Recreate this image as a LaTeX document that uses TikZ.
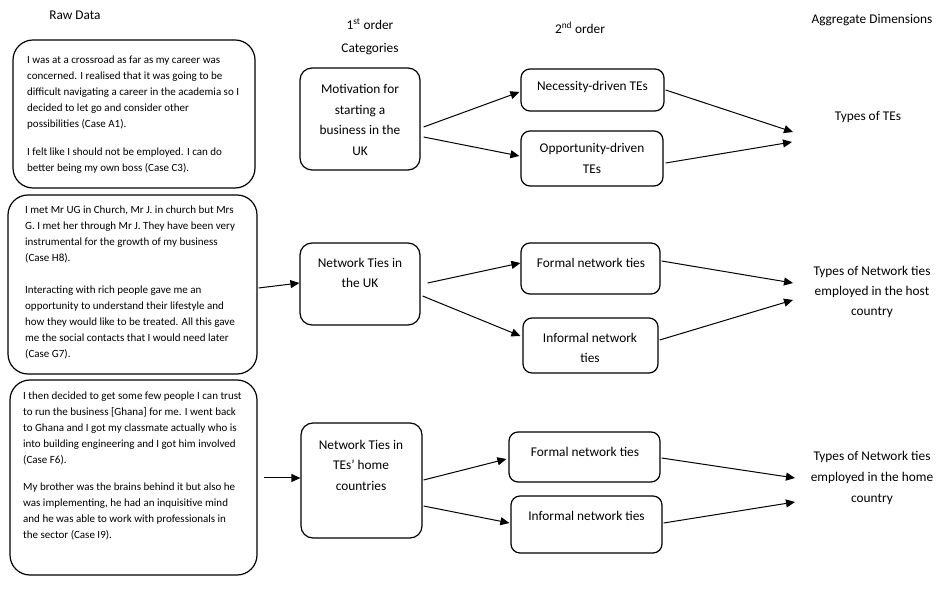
\documentclass[tikz,border=0pt]{standalone}
\usepackage{fontspec}
\setmainfont{Carlito}
\usetikzlibrary{arrows.meta}
\tikzset{
  rawbox/.style={draw, line width=1.2pt, rounded corners=20pt, inner sep=0pt},
  catbox/.style={draw, line width=1.2pt, rounded corners=12pt, inner sep=0pt},
  ordbox/.style={draw, line width=1.2pt, rounded corners=9pt, inner sep=0pt},
  rawtxt/.style={inner sep=0pt, align=left, anchor=west, font=\fontsize{11}{16}\selectfont},
  boxtxt/.style={inner sep=0pt, align=center, font=\fontsize{13.33}{20.5}\selectfont},
  head/.style={inner sep=0pt, align=center, font=\fontsize{13.33}{23}\selectfont},
  conn/.style={line width=1pt, -{Triangle[length=9pt,width=8pt]}}
}
\begin{document}
\begin{tikzpicture}[x=1pt,y=-1pt]
\useasboundingbox (0,0) rectangle (946,593);

% headers
\node[head] (hraw) at (75,15) {Raw Data};
\node[head] (hfirst) at (370,37) {1\textsuperscript{st} order\\Categories};
\node[head] (hsecond) at (580,28) {2\textsuperscript{nd} order};
\node[head] (hagg) at (872,20) {Aggregate Dimensions};

% raw data boxes
\node[rawbox, minimum width=242pt, minimum height=148pt] (raw1) at (134,114) {};
\node[rawtxt] (raw1t) at (27,115) {I was at a crossroad as far as my career was\\concerned. I realised that it was going to be\\difficult navigating a career in the academia so I\\decided to let go and consider other\\possibilities (Case A1).\\[12pt]I felt like I should not be employed. I can do\\better being my own boss (Case C3).};

\node[rawbox, minimum width=249pt, minimum height=179pt] (raw2) at (132.5,284.5) {};
\node[rawtxt] (raw2t) at (25,282) {I met Mr UG in Church, Mr J. in church but Mrs\\G. I met her through Mr J. They have been very\\instrumental for the growth of my business\\(Case H8).\\[16pt]Interacting with rich people gave me an\\opportunity to understand their lifestyle and\\how they would like to be treated. All this gave\\me the social contacts that I would need later\\(Case G7).};

\node[rawbox, minimum width=247pt, minimum height=195pt] (raw3) at (133.5,477.5) {};
\node[rawtxt] (raw3t) at (23,466) {I then decided to get some few people I can trust\\to run the business [Ghana] for me. I went back\\to Ghana and I got my classmate actually who is\\into building engineering and I got him involved\\(Case F6).\\[11pt]My brother was the brains behind it but also he\\was implementing, he had an inquisitive mind\\and he was able to work with professionals in\\the sector (Case I9).};

% first order boxes
\node[catbox, minimum width=120pt, minimum height=102pt] (mot) at (360,119) {};
\node[boxtxt] (mott) at (360,120) {Motivation for\\starting a\\business in the\\UK};
\node[catbox, minimum width=120pt, minimum height=82pt] (nuk) at (360,284) {};
\node[boxtxt] (nukt) at (360,273) {Network Ties in\\the UK};
\node[catbox, minimum width=121pt, minimum height=115pt] (nhome) at (361.5,480.5) {};
\node[boxtxt] (nhomet) at (361,465) {Network Ties in\\TEs’ home\\countries};

% second order boxes
\node[ordbox, minimum width=143pt, minimum height=42pt] (nec) at (592.5,90) {};
\node[boxtxt] (nect) at (592.5,87) {Necessity-driven TEs};
\node[ordbox, minimum width=142pt, minimum height=55pt] (opp) at (592,158.5) {};
\node[boxtxt] (oppt) at (592,158.5) {Opportunity-driven\\TEs};
\node[ordbox, minimum width=139pt, minimum height=51pt] (fuk) at (590.5,268.5) {};
\node[boxtxt] (fukt) at (591,263) {Formal network ties};
\node[ordbox, minimum width=135pt, minimum height=55pt] (iuk) at (590.5,345.5) {};
\node[boxtxt] (iukt) at (590,348) {Informal network\\ties};
\node[ordbox, minimum width=151pt, minimum height=50pt] (fh) at (584.5,457) {};
\node[boxtxt] (fht) at (585,452) {Formal network ties};
\node[ordbox, minimum width=151pt, minimum height=57pt] (ih) at (586.5,524.5) {};
\node[boxtxt] (iht) at (586.5,516) {Informal network ties};

% aggregate dimensions
\node[boxtxt] (agg1) at (868,117) {Types of TEs};
\node[boxtxt, font=\fontsize{13.33}{20}\selectfont] (agg2) at (872,292) {Types of Network ties\\employed in the host\\country};
\node[boxtxt, font=\fontsize{13.33}{21}\selectfont] (agg3) at (872,478) {Types of Network ties\\employed in the home\\country};

\coordinate (a1a) at (793,132);
\coordinate (a1b) at (792,142);
\coordinate (a2a) at (793,283);
\coordinate (a2b) at (793,300);
\coordinate (a3a) at (795,478);
\coordinate (a3b) at (795,502);

% connectors
\draw[conn] ([shift={(1,3.5)}]raw2.east) -- ([shift={(0,-1)}]nuk.west);
\draw[conn] ([shift={(6,0.5)}]raw3.east) -- ([shift={(0,-2.5)}]nhome.west);

\draw[conn] ([shift={(3,8)}]mot.east) -- ([shift={(-1,2)}]nec.west);
\draw[conn] ([shift={(3,18)}]mot.east) -- ([shift={(-1,-2.5)}]opp.west);
\draw[conn] ([shift={(7,-1)}]nuk.east) -- ([shift={(0,-5.5)}]fuk.west);
\draw[conn] ([shift={(2,12)}]nuk.east) -- ([shift={(-2,-9.5)}]iuk.west);
\draw[conn] ([shift={(1,-0.5)}]nhome.east) -- ([shift={(-2,2)}]fh.west);
\draw[conn] ([shift={(1,25.5)}]nhome.east) -- ([shift={(-1,-1.5)}]ih.west);

\draw[conn] ([shift={(1,0)}]nec.east) -- (a1a);
\draw[conn] ([shift={(2,4.5)}]opp.east) -- (a1b);
\draw[conn] ([shift={(1,-7.5)}]fuk.east) -- (a2a);
\draw[conn] ([shift={(1,-5.5)}]iuk.east) -- (a2b);
\draw[conn] ([shift={(1,1)}]fh.east) -- (a3a);
\draw[conn] ([shift={(1,-1.5)}]ih.east) -- (a3b);
\end{tikzpicture}
\end{document}
